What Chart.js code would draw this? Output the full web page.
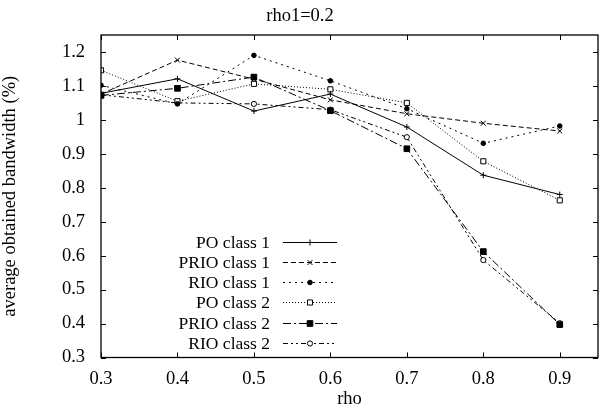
<!DOCTYPE html>
<html>
<head>
<meta charset="utf-8">
<script src="https://cdn.jsdelivr.net/npm/chart.js@4.4.1/dist/chart.umd.min.js"></script>
<style>
  html, body { margin: 0; padding: 0; background: #fff; }
  #wrap { width: 603px; height: 408px; }
</style>
</head>
<body>
<div id="wrap"><canvas id="chart"></canvas></div>
<script>
// valeurs
const rhoValues = [0.3, 0.4, 0.5, 0.6, 0.7, 0.8, 0.9];
const poClass1 = [1.078, 1.121, 1.026, 1.076, 0.979, 0.837, 0.780];
const prioClass1 = [1.076, 1.176, 1.120, 1.059, 1.018, 0.990, 0.967];
const rioClass1 = [1.102, 1.047, 1.190, 1.115, 1.033, 0.931, 0.982];
const poClass2 = [1.146, 1.055, 1.106, 1.090, 1.050, 0.878, 0.763];
const prioClass2 = [1.072, 1.093, 1.126, 1.027, 0.915, 0.612, 0.397];
const rioClass2 = [1.074, 1.050, 1.047, 1.030, 0.949, 0.587, 0.401];

const xTicks = [0.3, 0.4, 0.5, 0.6, 0.7, 0.8, 0.9];
const yTicks = [0.3, 0.4, 0.5, 0.6, 0.7, 0.8, 0.9, 1.0, 1.1, 1.2];

const FONT = "'Liberation Serif', 'Times New Roman', serif";
const FS = 18.5;
const KEY_FS = 17.5;

function series(label, values, dash, pointStyle, radius, fill) {
    return {
        label,
        data: rhoValues.map((x, i) => ({ x, y: values[i] })),
        borderColor: '#000',
        borderWidth: 1,
        borderDash: dash,
        pointStyle,
        pointRadius: radius,
        pointBorderColor: '#000',
        pointBackgroundColor: fill,
        pointBorderWidth: 1,
        tension: 0
    };
}

const datasets = [
    series('PO class 1', poClass1, [], 'cross', 3, '#000'),
    series('PRIO class 1', prioClass1, [5, 3], 'crossRot', 3.5, '#000'),
    series('RIO class 1', rioClass1, [2, 4], 'circle', 2.3, '#000'),
    series('PO class 2', poClass2, [1, 2], 'rect', 3.6, '#fff'),
    series('PRIO class 2', prioClass2, [8, 3, 2, 3], 'rect', 4, '#000'),
    series('RIO class 2', rioClass2, [5, 3, 2, 3, 2, 3], 'circle', 2.6, '#fff')
];

// cadre + graduations vers l'intérieur (style gnuplot)
const frameTicks = {
    id: 'frameTicks',
    afterDatasetsDraw(chart) {
        const { ctx, chartArea: a, scales } = chart;
        const len = 5;
        ctx.save();
        ctx.strokeStyle = '#000';
        ctx.lineWidth = 1;
        ctx.beginPath();
        scales.x.ticks.forEach(t => {
            const px = Math.round(scales.x.getPixelForValue(t.value)) + 0.5;
            ctx.moveTo(px, a.bottom); ctx.lineTo(px, a.bottom - len);
            ctx.moveTo(px, a.top); ctx.lineTo(px, a.top + len);
        });
        scales.y.ticks.forEach(t => {
            const py = Math.round(scales.y.getPixelForValue(t.value)) + 0.5;
            ctx.moveTo(a.left, py); ctx.lineTo(a.left + len, py);
            ctx.moveTo(a.right, py); ctx.lineTo(a.right - len, py);
        });
        ctx.stroke();
        ctx.lineWidth = 1.3;
        ctx.strokeRect(a.left, a.top, a.right - a.left, a.bottom - a.top);
        ctx.restore();
    }
};

// légende à la gnuplot : texte aligné à droite puis échantillon
const keyBox = {
    id: 'keyBox',
    afterDraw(chart) {
        const { ctx, chartArea: a } = chart;
        const textRight = a.left + 169;
        const x0 = a.left + 182, x1 = a.left + 236;
        const rowH = 20.3;
        const y0 = a.bottom - 116;
        ctx.save();
        ctx.font = KEY_FS + 'px ' + FONT;
        ctx.textAlign = 'right';
        ctx.textBaseline = 'middle';
        chart.data.datasets.forEach((ds, i) => {
            const y = Math.round(y0 + i * rowH) + 0.5;
            ctx.fillStyle = '#000';
            ctx.fillText(ds.label, textRight, y + 1);
            ctx.strokeStyle = '#000';
            ctx.lineWidth = 1;
            ctx.setLineDash(ds.borderDash);
            ctx.beginPath();
            ctx.moveTo(x0, y); ctx.lineTo(x1, y);
            ctx.stroke();
            ctx.setLineDash([]);
            ctx.fillStyle = ds.pointBackgroundColor;
            Chart.helpers.drawPoint(ctx, {
                pointStyle: ds.pointStyle,
                radius: ds.pointRadius,
                borderWidth: 1,
                rotation: 0
            }, (x0 + x1) / 2, y);
        });
        ctx.restore();
    }
};

new Chart(document.getElementById('chart'), {
    type: 'line',
    data: { datasets },
    options: {
        responsive: true,
        maintainAspectRatio: false,
        animation: false,
        layout: { padding: { left: 0, right: 3, top: 0, bottom: 0 } },
        plugins: {
            legend: { display: false },
            tooltip: { enabled: false },
            title: {
                display: true,
                text: 'rho1=0.2',
                color: '#000',
                font: { family: FONT, size: FS, weight: 'normal', lineHeight: 1.2 },
                padding: { top: 5, bottom: 7.8 }
            }
        },
        scales: {
            x: {
                type: 'linear',
                min: 0.3,
                max: 0.95,
                afterBuildTicks: s => { s.ticks = xTicks.map(v => ({ value: v })); },
                afterFit: s => { s.height = 50.5; },
                grid: { display: false, drawTicks: false },
                border: { display: false },
                ticks: {
                    color: '#000',
                    padding: 11,
                    maxRotation: 0,
                    font: { family: FONT, size: FS },
                    callback: v => String(Math.round(v * 10) / 10)
                },
                title: {
                    display: true,
                    text: 'rho',
                    color: '#000',
                    font: { family: FONT, size: FS, lineHeight: 1 },
                    padding: { top: 0, bottom: 0 }
                }
            },
            y: {
                min: 0.3,
                max: 1.25,
                afterBuildTicks: s => { s.ticks = yTicks.map(v => ({ value: v })); },
                afterFit: s => { s.width = 101; },
                grid: { display: false, drawTicks: false },
                border: { display: false },
                ticks: {
                    color: '#000',
                    padding: 16,
                    font: { family: FONT, size: FS },
                    callback: v => String(Math.round(v * 10) / 10)
                },
                title: {
                    display: true,
                    text: 'average obtained bandwidth (%)',
                    color: '#000',
                    font: { family: FONT, size: FS, lineHeight: 1 },
                    padding: { top: 1, bottom: 0 }
                }
            }
        }
    },
    plugins: [frameTicks, keyBox]
});
</script>
</body>
</html>
